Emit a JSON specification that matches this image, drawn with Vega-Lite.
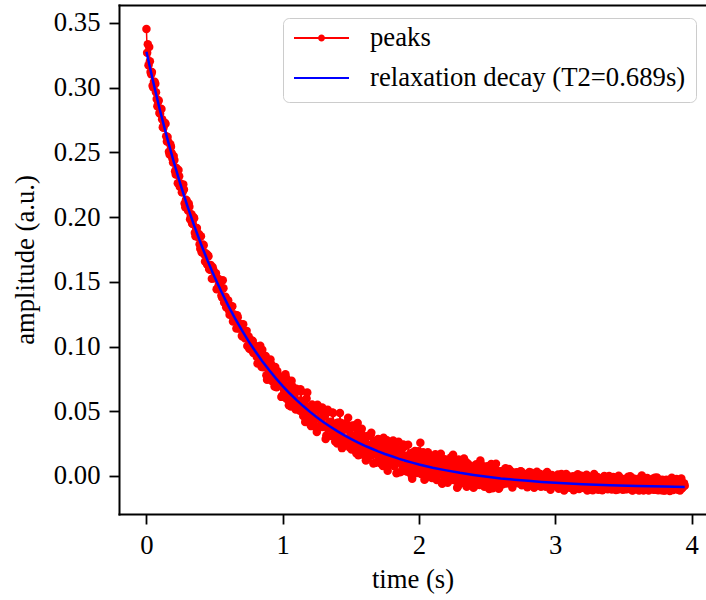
{
"$schema": "https://vega.github.io/schema/vega-lite/v6.json",
"width": 587, "height": 509,
"autosize": {"type": "none"},
"padding": {"left": 119, "top": 5, "right": 0, "bottom": 86},
"background": "white",
"config": {
  "view": {"stroke": null},
  "font": "Liberation Serif",
  "axis": {"labelFont": "Liberation Serif", "titleFont": "Liberation Serif", "labelFontSize": 26.7, "titleFontSize": 26.7, "labelColor": "black", "titleColor": "black", "titleFontWeight": "normal", "domainColor": "black", "tickColor": "black", "domainWidth": 2, "domainCap": "square", "tickWidth": 1.8, "tickSize": 10, "grid": false, "labelPadding": 9}
},
"datasets": {
"peaks": [
{"t":0.00,"a":0.3454},{"t":0.01,"a":0.3336},{"t":0.02,"a":0.3314},{"t":0.03,"a":0.3121},{"t":0.04,"a":0.3122},{"t":0.05,"a":0.3002},{"t":0.06,"a":0.3046},{"t":0.07,"a":0.2964},{"t":0.08,"a":0.2857},{"t":0.09,"a":0.2901},
{"t":0.10,"a":0.2799},{"t":0.11,"a":0.2836},{"t":0.12,"a":0.2695},{"t":0.13,"a":0.2718},{"t":0.14,"a":0.2722},{"t":0.15,"a":0.2585},{"t":0.16,"a":0.2583},{"t":0.17,"a":0.2484},{"t":0.18,"a":0.2544},{"t":0.19,"a":0.2453},
{"t":0.20,"a":0.2473},{"t":0.21,"a":0.2355},{"t":0.22,"a":0.2380},{"t":0.23,"a":0.2262},{"t":0.24,"a":0.2316},{"t":0.25,"a":0.2259},{"t":0.26,"a":0.2193},{"t":0.27,"a":0.2253},{"t":0.28,"a":0.2105},{"t":0.29,"a":0.2135},
{"t":0.30,"a":0.2082},{"t":0.31,"a":0.2106},{"t":0.32,"a":0.1983},{"t":0.33,"a":0.2023},{"t":0.34,"a":0.1947},{"t":0.35,"a":0.1992},{"t":0.36,"a":0.1853},{"t":0.37,"a":0.1915},{"t":0.38,"a":0.1849},{"t":0.39,"a":0.1790},
{"t":0.40,"a":0.1852},{"t":0.41,"a":0.1746},{"t":0.42,"a":0.1782},{"t":0.43,"a":0.1658},{"t":0.44,"a":0.1699},{"t":0.45,"a":0.1708},{"t":0.46,"a":0.1600},{"t":0.47,"a":0.1631},{"t":0.48,"a":0.1523},{"t":0.49,"a":0.1595},
{"t":0.50,"a":0.1527},{"t":0.51,"a":0.1567},{"t":0.52,"a":0.1446},{"t":0.53,"a":0.1474},{"t":0.54,"a":0.1511},{"t":0.55,"a":0.1395},{"t":0.56,"a":0.1512},{"t":0.57,"a":0.1340},{"t":0.58,"a":0.1384},{"t":0.59,"a":0.1322},
{"t":0.60,"a":0.1356},{"t":0.61,"a":0.1246},{"t":0.62,"a":0.1295},{"t":0.63,"a":0.1312},{"t":0.64,"a":0.1205},{"t":0.65,"a":0.1221},{"t":0.66,"a":0.1140},{"t":0.67,"a":0.1226},{"t":0.68,"a":0.1140},{"t":0.69,"a":0.1174},
{"t":0.70,"a":0.1083},{"t":0.71,"a":0.1172},{"t":0.72,"a":0.1084},{"t":0.73,"a":0.1097},{"t":0.74,"a":0.1004},{"t":0.75,"a":0.1078},{"t":0.76,"a":0.1034},{"t":0.77,"a":0.0973},{"t":0.78,"a":0.1043},{"t":0.79,"a":0.0952},
{"t":0.80,"a":0.1000},{"t":0.81,"a":0.0920},{"t":0.82,"a":0.0994},{"t":0.83,"a":0.0870},{"t":0.84,"a":0.0918},{"t":0.85,"a":0.0976},{"t":0.86,"a":0.0839},{"t":0.87,"a":0.0881},{"t":0.88,"a":0.0778},{"t":0.89,"a":0.0877},
{"t":0.90,"a":0.0807},{"t":0.91,"a":0.0899},{"t":0.92,"a":0.0734},{"t":0.93,"a":0.0814},{"t":0.94,"a":0.0691},{"t":0.95,"a":0.0783},{"t":0.96,"a":0.0810},{"t":0.97,"a":0.0701},{"t":0.98,"a":0.0725},{"t":0.99,"a":0.0611},
{"t":1.00,"a":0.0750},{"t":1.01,"a":0.0665},{"t":1.02,"a":0.0785},{"t":1.03,"a":0.0595},{"t":1.04,"a":0.0698},{"t":1.05,"a":0.0636},{"t":1.06,"a":0.0537},{"t":1.07,"a":0.0695},{"t":1.08,"a":0.0635},{"t":1.09,"a":0.0556},
{"t":1.10,"a":0.0673},{"t":1.11,"a":0.0521},{"t":1.12,"a":0.0582},{"t":1.13,"a":0.0670},{"t":1.14,"a":0.0527},{"t":1.15,"a":0.0464},{"t":1.16,"a":0.0583},{"t":1.17,"a":0.0509},{"t":1.18,"a":0.0644},{"t":1.19,"a":0.0456},
{"t":1.20,"a":0.0513},{"t":1.21,"a":0.0385},{"t":1.22,"a":0.0543},{"t":1.23,"a":0.0437},{"t":1.24,"a":0.0505},{"t":1.25,"a":0.0340},{"t":1.26,"a":0.0535},{"t":1.27,"a":0.0442},{"t":1.28,"a":0.0378},{"t":1.29,"a":0.0529},
{"t":1.30,"a":0.0385},{"t":1.31,"a":0.0469},{"t":1.32,"a":0.0313},{"t":1.33,"a":0.0512},{"t":1.34,"a":0.0377},{"t":1.35,"a":0.0418},{"t":1.36,"a":0.0310},{"t":1.37,"a":0.0487},{"t":1.38,"a":0.0315},{"t":1.39,"a":0.0375},
{"t":1.40,"a":0.0250},{"t":1.41,"a":0.0414},{"t":1.42,"a":0.0487},{"t":1.43,"a":0.0309},{"t":1.44,"a":0.0404},{"t":1.45,"a":0.0258},{"t":1.46,"a":0.0401},{"t":1.47,"a":0.0361},{"t":1.48,"a":0.0450},{"t":1.49,"a":0.0221},
{"t":1.50,"a":0.0319},{"t":1.51,"a":0.0389},{"t":1.52,"a":0.0223},{"t":1.53,"a":0.0391},{"t":1.54,"a":0.0176},{"t":1.55,"a":0.0410},{"t":1.56,"a":0.0272},{"t":1.57,"a":0.0209},{"t":1.58,"a":0.0365},{"t":1.59,"a":0.0163},
{"t":1.60,"a":0.0297},{"t":1.61,"a":0.0119},{"t":1.62,"a":0.0309},{"t":1.63,"a":0.0230},{"t":1.64,"a":0.0167},{"t":1.65,"a":0.0333},{"t":1.66,"a":0.0186},{"t":1.67,"a":0.0270},{"t":1.68,"a":0.0101},{"t":1.69,"a":0.0238},
{"t":1.70,"a":0.0286},{"t":1.71,"a":0.0149},{"t":1.72,"a":0.0096},{"t":1.73,"a":0.0232},{"t":1.74,"a":0.0295},{"t":1.75,"a":0.0158},{"t":1.76,"a":0.0197},{"t":1.77,"a":0.0041},{"t":1.78,"a":0.0240},{"t":1.79,"a":0.0095},
{"t":1.80,"a":0.0163},{"t":1.81,"a":0.0274},{"t":1.82,"a":0.0075},{"t":1.83,"a":0.0182},{"t":1.84,"a":0.0122},{"t":1.85,"a":0.0265},{"t":1.86,"a":0.0028},{"t":1.87,"a":0.0186},{"t":1.88,"a":0.0079},{"t":1.89,"a":0.0223},
{"t":1.90,"a":0.0038},{"t":1.91,"a":0.0139},{"t":1.92,"a":0.0242},{"t":1.93,"a":0.0053},{"t":1.94,"a":0.0175},{"t":1.95,"a":-0.0022},{"t":1.96,"a":0.0135},{"t":1.97,"a":0.0192},{"t":1.98,"a":0.0069},{"t":1.99,"a":0.0026},
{"t":2.00,"a":0.0139},{"t":2.01,"a":0.0257},{"t":2.02,"a":0.0049},{"t":2.03,"a":0.0183},{"t":2.04,"a":-0.0030},{"t":2.05,"a":0.0087},{"t":2.06,"a":0.0151},{"t":2.07,"a":0.0010},{"t":2.08,"a":0.0159},{"t":2.09,"a":0.0046},
{"t":2.10,"a":-0.0007},{"t":2.11,"a":0.0104},{"t":2.12,"a":0.0167},{"t":2.13,"a":-0.0031},{"t":2.14,"a":0.0074},{"t":2.15,"a":0.0016},{"t":2.16,"a":0.0171},{"t":2.17,"a":-0.0061},{"t":2.18,"a":0.0098},{"t":2.19,"a":0.0129},
{"t":2.20,"a":0.0035},{"t":2.21,"a":-0.0052},{"t":2.22,"a":0.0107},{"t":2.23,"a":0.0063},{"t":2.24,"a":-0.0010},{"t":2.25,"a":0.0164},{"t":2.26,"a":-0.0033},{"t":2.27,"a":0.0066},{"t":2.28,"a":-0.0092},{"t":2.29,"a":0.0128},
{"t":2.30,"a":0.0029},{"t":2.31,"a":-0.0056},{"t":2.32,"a":0.0077},{"t":2.33,"a":0.0135},{"t":2.34,"a":-0.0012},{"t":2.35,"a":-0.0083},{"t":2.36,"a":0.0095},{"t":2.37,"a":0.0027},{"t":2.38,"a":-0.0043},{"t":2.39,"a":0.0073},
{"t":2.40,"a":-0.0091},{"t":2.41,"a":0.0038},{"t":2.42,"a":0.0090},{"t":2.43,"a":-0.0021},{"t":2.44,"a":-0.0061},{"t":2.45,"a":0.0120},{"t":2.46,"a":-0.0006},{"t":2.47,"a":0.0040},{"t":2.48,"a":-0.0083},{"t":2.49,"a":0.0018},
{"t":2.50,"a":0.0075},{"t":2.51,"a":-0.0052},{"t":2.52,"a":-0.0021},{"t":2.53,"a":0.0092},{"t":2.54,"a":-0.0095},{"t":2.55,"a":0.0024},{"t":2.56,"a":0.0055},{"t":2.57,"a":-0.0053},{"t":2.58,"a":-0.0005},{"t":2.59,"a":-0.0089},
{"t":2.60,"a":0.0021},{"t":2.61,"a":-0.0045},{"t":2.62,"a":0.0042},{"t":2.63,"a":-0.0020},{"t":2.64,"a":-0.0057},{"t":2.65,"a":0.0007},{"t":2.66,"a":0.0053},{"t":2.67,"a":-0.0042},{"t":2.68,"a":-0.0007},{"t":2.69,"a":-0.0068},
{"t":2.70,"a":0.0023},{"t":2.71,"a":-0.0020},{"t":2.72,"a":-0.0053},{"t":2.73,"a":0.0006},{"t":2.74,"a":-0.0040},{"t":2.75,"a":0.0035},{"t":2.76,"a":-0.0065},{"t":2.77,"a":-0.0010},{"t":2.78,"a":0.0008},{"t":2.79,"a":-0.0056},
{"t":2.80,"a":-0.0032},{"t":2.81,"a":0.0031},{"t":2.82,"a":-0.0068},{"t":2.83,"a":-0.0007},{"t":2.84,"a":-0.0026},{"t":2.85,"a":-0.0081},{"t":2.86,"a":0.0012},{"t":2.87,"a":-0.0047},{"t":2.88,"a":-0.0017},{"t":2.89,"a":0.0016},
{"t":2.90,"a":-0.0070},{"t":2.91,"a":-0.0029},{"t":2.92,"a":-0.0001},{"t":2.93,"a":-0.0083},{"t":2.94,"a":0.0031},{"t":2.95,"a":-0.0048},{"t":2.96,"a":-0.0067},{"t":2.97,"a":-0.0012},{"t":2.98,"a":-0.0081},{"t":2.99,"a":-0.0002},
{"t":3.00,"a":-0.0031},{"t":3.01,"a":-0.0074},{"t":3.02,"a":0.0012},{"t":3.03,"a":-0.0064},{"t":3.04,"a":-0.0042},{"t":3.05,"a":-0.0008},{"t":3.06,"a":-0.0093},{"t":3.07,"a":-0.0028},{"t":3.08,"a":0.0015},{"t":3.09,"a":-0.0070},
{"t":3.10,"a":-0.0055},{"t":3.11,"a":-0.0024},{"t":3.12,"a":-0.0086},{"t":3.13,"a":-0.0003},{"t":3.14,"a":-0.0050},{"t":3.15,"a":-0.0094},{"t":3.16,"a":-0.0020},{"t":3.17,"a":-0.0062},{"t":3.18,"a":-0.0082},{"t":3.19,"a":0.0001},
{"t":3.20,"a":-0.0041},{"t":3.21,"a":-0.0093},{"t":3.22,"a":-0.0035},{"t":3.23,"a":0.0010},{"t":3.24,"a":-0.0079},{"t":3.25,"a":-0.0047},{"t":3.26,"a":-0.0015},{"t":3.27,"a":-0.0103},{"t":3.28,"a":-0.0059},{"t":3.29,"a":-0.0027},
{"t":3.30,"a":-0.0089},{"t":3.31,"a":-0.0008},{"t":3.32,"a":-0.0053},{"t":3.33,"a":-0.0099},{"t":3.34,"a":-0.0035},{"t":3.35,"a":-0.0065},{"t":3.36,"a":0.0000},{"t":3.37,"a":-0.0088},{"t":3.38,"a":-0.0045},{"t":3.39,"a":-0.0098},
{"t":3.40,"a":-0.0025},{"t":3.41,"a":-0.0060},{"t":3.42,"a":-0.0096},{"t":3.43,"a":-0.0014},{"t":3.44,"a":-0.0070},{"t":3.45,"a":-0.0041},{"t":3.46,"a":-0.0105},{"t":3.47,"a":-0.0008},{"t":3.48,"a":-0.0064},{"t":3.49,"a":-0.0089},
{"t":3.50,"a":-0.0038},{"t":3.51,"a":-0.0103},{"t":3.52,"a":-0.0054},{"t":3.53,"a":-0.0023},{"t":3.54,"a":-0.0082},{"t":3.55,"a":-0.0003},{"t":3.56,"a":-0.0067},{"t":3.57,"a":-0.0111},{"t":3.58,"a":-0.0036},{"t":3.59,"a":-0.0060},
{"t":3.60,"a":-0.0101},{"t":3.61,"a":-0.0022},{"t":3.62,"a":-0.0050},{"t":3.63,"a":-0.0088},{"t":3.64,"a":-0.0040},{"t":3.65,"a":-0.0110},{"t":3.66,"a":-0.0017},{"t":3.67,"a":-0.0072},{"t":3.68,"a":-0.0055},{"t":3.69,"a":-0.0100},
{"t":3.70,"a":-0.0035},{"t":3.71,"a":-0.0080},{"t":3.72,"a":-0.0106},{"t":3.73,"a":-0.0013},{"t":3.74,"a":-0.0062},{"t":3.75,"a":-0.0094},{"t":3.76,"a":-0.0045},{"t":3.77,"a":-0.0031},{"t":3.78,"a":-0.0111},{"t":3.79,"a":-0.0060},
{"t":3.80,"a":-0.0076},{"t":3.81,"a":-0.0033},{"t":3.82,"a":-0.0099},{"t":3.83,"a":-0.0053},{"t":3.84,"a":-0.0116},{"t":3.85,"a":-0.0025},{"t":3.86,"a":-0.0069},{"t":3.87,"a":-0.0091},{"t":3.88,"a":-0.0050},{"t":3.89,"a":-0.0024},
{"t":3.90,"a":-0.0106},{"t":3.91,"a":-0.0059},{"t":3.92,"a":-0.0042},{"t":3.93,"a":-0.0095},{"t":3.94,"a":-0.0066},{"t":3.95,"a":-0.0076},
{"t":0.005,"a":0.3270},{"t":0.015,"a":0.3173},{"t":0.025,"a":0.3205},{"t":0.035,"a":0.3103},{"t":0.045,"a":0.3016},{"t":0.055,"a":0.3045},{"t":0.065,"a":0.3031},{"t":0.075,"a":0.2912},{"t":0.085,"a":0.2893},{"t":0.095,"a":0.2804},
{"t":0.105,"a":0.2837},{"t":0.115,"a":0.2756},{"t":0.125,"a":0.2690},{"t":0.135,"a":0.2730},{"t":0.145,"a":0.2624},{"t":0.155,"a":0.2619},{"t":0.165,"a":0.2506},{"t":0.175,"a":0.2563},{"t":0.185,"a":0.2495},{"t":0.195,"a":0.2422},
{"t":0.205,"a":0.2441},{"t":0.215,"a":0.2330},{"t":0.225,"a":0.2340},{"t":0.235,"a":0.2364},{"t":0.245,"a":0.2234},{"t":0.255,"a":0.2250},{"t":0.265,"a":0.2192},{"t":0.275,"a":0.2214},{"t":0.285,"a":0.2077},{"t":0.295,"a":0.2129},
{"t":0.305,"a":0.2052},{"t":0.315,"a":0.2081},{"t":0.325,"a":0.2016},{"t":0.335,"a":0.1950},{"t":0.345,"a":0.2000},{"t":0.355,"a":0.1880},{"t":0.365,"a":0.1912},{"t":0.375,"a":0.1848},{"t":0.385,"a":0.1870},{"t":0.395,"a":0.1756},
{"t":0.405,"a":0.1729},{"t":0.415,"a":0.1788},{"t":0.425,"a":0.1711},{"t":0.435,"a":0.1720},{"t":0.445,"a":0.1633},{"t":0.455,"a":0.1698},{"t":0.465,"a":0.1593},{"t":0.475,"a":0.1604},{"t":0.485,"a":0.1614},{"t":0.495,"a":0.1530},
{"t":0.505,"a":0.1551},{"t":0.515,"a":0.1443},{"t":0.525,"a":0.1525},{"t":0.535,"a":0.1448},{"t":0.545,"a":0.1450},{"t":0.555,"a":0.1378},{"t":0.565,"a":0.1451},{"t":0.575,"a":0.1370},{"t":0.585,"a":0.1303},{"t":0.595,"a":0.1357},
{"t":0.605,"a":0.1281},{"t":0.615,"a":0.1297},{"t":0.625,"a":0.1307},{"t":0.635,"a":0.1193},{"t":0.645,"a":0.1248},{"t":0.655,"a":0.1194},{"t":0.665,"a":0.1241},{"t":0.675,"a":0.1142},{"t":0.685,"a":0.1149},{"t":0.695,"a":0.1170},
{"t":0.705,"a":0.1078},{"t":0.715,"a":0.1106},{"t":0.725,"a":0.1063},{"t":0.735,"a":0.1121},{"t":0.745,"a":0.1074},{"t":0.755,"a":0.0982},{"t":0.765,"a":0.1006},{"t":0.775,"a":0.1046},{"t":0.785,"a":0.0950},{"t":0.795,"a":0.0984},
{"t":0.805,"a":0.1002},{"t":0.815,"a":0.0868},{"t":0.825,"a":0.0925},{"t":0.835,"a":0.1007},{"t":0.845,"a":0.0841},{"t":0.855,"a":0.0907},{"t":0.865,"a":0.0852},{"t":0.875,"a":0.0926},{"t":0.885,"a":0.0744},{"t":0.895,"a":0.0865},
{"t":0.905,"a":0.0780},{"t":0.915,"a":0.0864},{"t":0.925,"a":0.0795},{"t":0.935,"a":0.0727},{"t":0.945,"a":0.0842},{"t":0.955,"a":0.0686},{"t":0.965,"a":0.0770},{"t":0.975,"a":0.0701},{"t":0.985,"a":0.0769},{"t":0.995,"a":0.0620},
{"t":1.005,"a":0.0719},{"t":1.015,"a":0.0608},{"t":1.025,"a":0.0758},{"t":1.035,"a":0.0637},{"t":1.045,"a":0.0547},{"t":1.055,"a":0.0686},{"t":1.065,"a":0.0735},{"t":1.075,"a":0.0575},{"t":1.085,"a":0.0614},{"t":1.095,"a":0.0514},
{"t":1.105,"a":0.0653},{"t":1.115,"a":0.0564},{"t":1.125,"a":0.0504},{"t":1.135,"a":0.0655},{"t":1.145,"a":0.0516},{"t":1.155,"a":0.0577},{"t":1.165,"a":0.0417},{"t":1.175,"a":0.0598},{"t":1.185,"a":0.0529},{"t":1.195,"a":0.0449},
{"t":1.205,"a":0.0391},{"t":1.215,"a":0.0553},{"t":1.225,"a":0.0445},{"t":1.235,"a":0.0507},{"t":1.245,"a":0.0379},{"t":1.255,"a":0.0551},{"t":1.265,"a":0.0383},{"t":1.275,"a":0.0445},{"t":1.285,"a":0.0507},{"t":1.295,"a":0.0379},
{"t":1.305,"a":0.0462},{"t":1.315,"a":0.0285},{"t":1.325,"a":0.0488},{"t":1.335,"a":0.0371},{"t":1.345,"a":0.0414},{"t":1.355,"a":0.0308},{"t":1.365,"a":0.0491},{"t":1.375,"a":0.0364},{"t":1.385,"a":0.0267},{"t":1.395,"a":0.0410},
{"t":1.405,"a":0.0293},{"t":1.415,"a":0.0357},{"t":1.425,"a":0.0411},{"t":1.435,"a":0.0215},{"t":1.445,"a":0.0359},{"t":1.455,"a":0.0284},{"t":1.465,"a":0.0408},{"t":1.475,"a":0.0242},{"t":1.485,"a":0.0286},{"t":1.495,"a":0.0360},
{"t":1.505,"a":0.0205},{"t":1.515,"a":0.0290},{"t":1.525,"a":0.0234},{"t":1.535,"a":0.0379},{"t":1.545,"a":0.0314},{"t":1.555,"a":0.0159},{"t":1.565,"a":0.0234},{"t":1.575,"a":0.0338},{"t":1.585,"a":0.0173},{"t":1.595,"a":0.0268},
{"t":1.605,"a":0.0203},{"t":1.615,"a":0.0299},{"t":1.625,"a":0.0134},{"t":1.635,"a":0.0240},{"t":1.645,"a":0.0315},{"t":1.655,"a":0.0161},{"t":1.665,"a":0.0096},{"t":1.675,"a":0.0242},{"t":1.685,"a":0.0187},{"t":1.695,"a":0.0273},
{"t":1.705,"a":0.0118},{"t":1.715,"a":0.0194},{"t":1.725,"a":0.0240},{"t":1.735,"a":0.0077},{"t":1.745,"a":0.0203},{"t":1.755,"a":0.0129},{"t":1.765,"a":0.0275},{"t":1.775,"a":0.0081},{"t":1.785,"a":0.0138},{"t":1.795,"a":0.0204},
{"t":1.805,"a":0.0090},{"t":1.815,"a":0.0237},{"t":1.825,"a":0.0143},{"t":1.835,"a":0.0020},{"t":1.845,"a":0.0206},{"t":1.855,"a":0.0103},{"t":1.865,"a":0.0150},{"t":1.875,"a":0.0036},{"t":1.885,"a":0.0243},{"t":1.895,"a":0.0069},
{"t":1.905,"a":0.0156},{"t":1.915,"a":0.0033},{"t":1.925,"a":0.0100},{"t":1.935,"a":0.0167},{"t":1.945,"a":0.0005},{"t":1.955,"a":0.0182},{"t":1.965,"a":0.0059},{"t":1.975,"a":0.0126},{"t":1.985,"a":0.0023},{"t":1.995,"a":0.0190},
{"t":2.005,"a":0.0118},{"t":2.015,"a":0.0015},{"t":2.025,"a":0.0173},{"t":2.035,"a":0.0060},{"t":2.045,"a":-0.0022},{"t":2.055,"a":0.0125},{"t":2.065,"a":0.0183},{"t":2.075,"a":0.0030},{"t":2.085,"a":0.0078},{"t":2.095,"a":-0.0015},
{"t":2.105,"a":0.0126},{"t":2.115,"a":0.0052},{"t":2.125,"a":0.0005},{"t":2.135,"a":0.0147},{"t":2.145,"a":0.0028},{"t":2.155,"a":0.0089},{"t":2.165,"a":-0.0049},{"t":2.175,"a":0.0120},{"t":2.185,"a":0.0064},{"t":2.195,"a":-0.0001},
{"t":2.205,"a":0.0096},{"t":2.215,"a":-0.0041},{"t":2.225,"a":0.0038},{"t":2.235,"a":0.0144},{"t":2.245,"a":-0.0028},{"t":2.255,"a":0.0060},{"t":2.265,"a":0.0013},{"t":2.275,"a":0.0110},{"t":2.285,"a":-0.0081},{"t":2.295,"a":0.0070},
{"t":2.305,"a":-0.0013},{"t":2.315,"a":0.0094},{"t":2.325,"a":0.0029},{"t":2.335,"a":-0.0035},{"t":2.345,"a":0.0107},{"t":2.355,"a":-0.0057},{"t":2.365,"a":0.0050},{"t":2.375,"a":-0.0015},{"t":2.385,"a":0.0074},{"t":2.395,"a":-0.0081},
{"t":2.405,"a":-0.0082},{"t":2.415,"a":0.0069},{"t":2.425,"a":-0.0023},{"t":2.435,"a":0.0039},{"t":2.445,"a":-0.0070},{"t":2.455,"a":0.0090},{"t":2.465,"a":-0.0055},{"t":2.475,"a":0.0007},{"t":2.485,"a":0.0069},{"t":2.495,"a":-0.0041},
{"t":2.505,"a":0.0039},{"t":2.515,"a":-0.0100},{"t":2.525,"a":0.0072},{"t":2.535,"a":-0.0028},{"t":2.545,"a":0.0016},{"t":2.555,"a":-0.0076},{"t":2.565,"a":0.0094},{"t":2.575,"a":-0.0015},{"t":2.585,"a":-0.0098},{"t":2.595,"a":0.0036},
{"t":2.605,"a":0.0026},{"t":2.615,"a":-0.0065},{"t":2.625,"a":-0.0012},{"t":2.635,"a":0.0059},{"t":2.645,"a":-0.0056},{"t":2.655,"a":0.0003},{"t":2.665,"a":-0.0028},{"t":2.675,"a":0.0037},{"t":2.685,"a":-0.0090},{"t":2.695,"a":0.0011},
{"t":2.705,"a":-0.0044},{"t":2.715,"a":0.0028},{"t":2.725,"a":-0.0015},{"t":2.735,"a":-0.0058},{"t":2.745,"a":0.0037},{"t":2.755,"a":-0.0072},{"t":2.765,"a":-0.0001},{"t":2.775,"a":-0.0044},{"t":2.785,"a":0.0016},{"t":2.795,"a":-0.0087},
{"t":2.805,"a":-0.0010},{"t":2.815,"a":-0.0071},{"t":2.825,"a":0.0024},{"t":2.835,"a":-0.0043},{"t":2.845,"a":-0.0092},{"t":2.855,"a":-0.0002},{"t":2.865,"a":0.0033},{"t":2.875,"a":-0.0058},{"t":2.885,"a":-0.0029},{"t":2.895,"a":-0.0083},
{"t":2.905,"a":0.0006},{"t":2.915,"a":-0.0043},{"t":2.925,"a":-0.0074},{"t":2.935,"a":0.0022},{"t":2.945,"a":-0.0057},{"t":2.955,"a":-0.0016},{"t":2.965,"a":-0.0106},{"t":2.975,"a":0.0007},{"t":2.985,"a":-0.0030},{"t":2.995,"a":-0.0072},
{"t":3.005,"a":-0.0061},{"t":3.015,"a":-0.0002},{"t":3.025,"a":-0.0098},{"t":3.035,"a":-0.0033},{"t":3.045,"a":0.0015},{"t":3.055,"a":-0.0076},{"t":3.065,"a":-0.0113},{"t":3.075,"a":-0.0023},{"t":3.085,"a":-0.0054},{"t":3.095,"a":0.0000},
{"t":3.105,"a":-0.0091},{"t":3.115,"a":-0.0043},{"t":3.125,"a":-0.0014},{"t":3.135,"a":-0.0110},{"t":3.145,"a":-0.0033},{"t":3.155,"a":-0.0075},{"t":3.165,"a":0.0014},{"t":3.175,"a":-0.0100},{"t":3.185,"a":-0.0065},{"t":3.195,"a":-0.0023},
{"t":3.205,"a":-0.0090},{"t":3.215,"a":0.0000},{"t":3.225,"a":-0.0055},{"t":3.235,"a":-0.0112},{"t":3.245,"a":-0.0014},{"t":3.255,"a":-0.0074},{"t":3.265,"a":-0.0044},{"t":3.275,"a":-0.0111},{"t":3.285,"a":0.0015},{"t":3.295,"a":-0.0088},
{"t":3.305,"a":-0.0034},{"t":3.315,"a":-0.0106},{"t":3.325,"a":-0.0065},{"t":3.335,"a":-0.0023},{"t":3.345,"a":-0.0110},{"t":3.355,"a":-0.0012},{"t":3.365,"a":-0.0084},{"t":3.375,"a":-0.0043},{"t":3.385,"a":-0.0103},{"t":3.395,"a":-0.0001},
{"t":3.405,"a":-0.0044},{"t":3.415,"a":-0.0104},{"t":3.425,"a":-0.0008},{"t":3.435,"a":-0.0075},{"t":3.445,"a":-0.0108},{"t":3.455,"a":-0.0033},{"t":3.465,"a":0.0002},{"t":3.475,"a":-0.0088},{"t":3.485,"a":-0.0058},{"t":3.495,"a":-0.0106},
{"t":3.505,"a":-0.0023},{"t":3.515,"a":-0.0071},{"t":3.525,"a":-0.0102},{"t":3.535,"a":-0.0006},{"t":3.545,"a":-0.0084},{"t":3.555,"a":-0.0042},{"t":3.565,"a":-0.0112},{"t":3.575,"a":-0.0019},{"t":3.585,"a":-0.0055},{"t":3.595,"a":-0.0097},
{"t":3.605,"a":-0.0032},{"t":3.615,"a":-0.0112},{"t":3.625,"a":-0.0068},{"t":3.635,"a":0.0003},{"t":3.645,"a":-0.0111},{"t":3.655,"a":-0.0051},{"t":3.665,"a":-0.0081},{"t":3.675,"a":-0.0015},{"t":3.685,"a":-0.0113},{"t":3.695,"a":-0.0040},
{"t":3.705,"a":-0.0094},{"t":3.715,"a":-0.0022},{"t":3.725,"a":-0.0065},{"t":3.735,"a":-0.0107},{"t":3.745,"a":-0.0011},{"t":3.755,"a":-0.0110},{"t":3.765,"a":-0.0047},{"t":3.775,"a":-0.0090},{"t":3.785,"a":-0.0030},{"t":3.795,"a":-0.0112},
{"t":3.805,"a":-0.0113},{"t":3.815,"a":-0.0030},{"t":3.825,"a":-0.0091},{"t":3.835,"a":-0.0049},{"t":3.845,"a":-0.0111},{"t":3.855,"a":-0.0013},{"t":3.865,"a":-0.0109},{"t":3.875,"a":-0.0068},{"t":3.885,"a":-0.0026},{"t":3.895,"a":-0.0098},
{"t":3.905,"a":-0.0044},{"t":3.915,"a":-0.0112},{"t":3.925,"a":-0.0020},{"t":3.935,"a":-0.0087},{"t":3.945,"a":-0.0057}
],
"fit": [
{"t":0,"a":0.3278},{"t":0.05,"a":0.3042},{"t":0.1,"a":0.2822},{"t":0.15,"a":0.2618},{"t":0.2,"a":0.2428},{"t":0.25,"a":0.2251},{"t":0.3,"a":0.2087},{"t":0.35,"a":0.1934},{"t":0.4,"a":0.1792},{"t":0.45,"a":0.1660},
{"t":0.5,"a":0.1537},{"t":0.55,"a":0.1423},{"t":0.6,"a":0.1316},{"t":0.65,"a":0.1218},{"t":0.7,"a":0.1126},{"t":0.75,"a":0.1040},{"t":0.8,"a":0.0961},{"t":0.85,"a":0.0887},{"t":0.9,"a":0.0818},{"t":0.95,"a":0.0754},
{"t":1.0,"a":0.0694},{"t":1.05,"a":0.0639},{"t":1.1,"a":0.0588},{"t":1.15,"a":0.0540},{"t":1.2,"a":0.0495},{"t":1.25,"a":0.0454},{"t":1.3,"a":0.0415},{"t":1.35,"a":0.0380},{"t":1.4,"a":0.0346},{"t":1.45,"a":0.0315},
{"t":1.5,"a":0.0287},{"t":1.55,"a":0.0260},{"t":1.6,"a":0.0235},{"t":1.65,"a":0.0212},{"t":1.7,"a":0.0190},{"t":1.75,"a":0.0170},{"t":1.8,"a":0.0152},{"t":1.85,"a":0.0134},{"t":1.9,"a":0.0118},{"t":1.95,"a":0.0103},
{"t":2.0,"a":0.0089},{"t":2.1,"a":0.0064},{"t":2.2,"a":0.0043},{"t":2.3,"a":0.0024},{"t":2.4,"a":0.0008},{"t":2.5,"a":-0.0006},{"t":2.6,"a":-0.0019},{"t":2.7,"a":-0.0029},{"t":2.8,"a":-0.0038},{"t":2.9,"a":-0.0046},
{"t":3.0,"a":-0.0053},{"t":3.2,"a":-0.0064},{"t":3.4,"a":-0.0072},{"t":3.6,"a":-0.0078},{"t":3.8,"a":-0.0082},{"t":3.95,"a":-0.0085}
]
},
"encoding": {
  "y": {"field": "a", "type": "quantitative", "scale": {"domain": [-0.0294, 0.3639], "nice": false, "zero": false},
        "axis": {"values": [0, 0.05, 0.1, 0.15, 0.2, 0.25, 0.3, 0.35], "format": ".2f", "title": "amplitude (a.u.)", "titlePadding": 14}}
},
"layer": [
  {
    "data": {"name": "peaks"},
    "mark": {"type": "line", "strokeWidth": 1.5, "point": {"filled": true, "size": 72, "opacity": 1}},
    "encoding": {
      "x": {"field": "t", "type": "quantitative", "scale": {"domain": [-0.2015, 4.106], "nice": false, "zero": false},
            "axis": {"values": [0, 1, 2, 3, 4], "format": "d", "title": "time (s)", "titlePadding": 8, "labelPadding": 8}},
      "color": {"datum": "peaks", "type": "nominal",
        "scale": {"domain": ["peaks", "relaxation decay (T2=0.689s)"], "range": ["#ff0000", "#0000ff"]},
        "legend": {
          "title": null, "orient": "none", "legendX": 164, "legendY": 13,
          "strokeColor": "#cccccc", "fillColor": "white", "cornerRadius": 6, "padding": 10,
          "labelFont": "Liberation Serif", "labelFontSize": 26.7, "labelColor": "black", "labelLimit": 600,
          "symbolSize": 3025, "symbolStrokeWidth": 2, "symbolOffset": 0,
          "clipHeight": 20, "rowPadding": 13, "labelOffset": 20,
          "encode": {"symbols": {"update": {
            "shape": {"signal": "datum.value === 'peaks' ? 'M-1,0H1M0.09,0A0.09,0.09,0,1,1,-0.09,0A0.09,0.09,0,1,1,0.09,0Z' : 'M-1,0H1'"},
            "fill": {"signal": "datum.value === 'peaks' ? '#ff0000' : 'transparent'"}
          }}}
        }
      }
    }
  },
  {
    "data": {"name": "fit"},
    "mark": {"type": "line", "strokeWidth": 2.5},
    "encoding": {
      "x": {"field": "t", "type": "quantitative",
            "axis": {"orient": "top", "labels": false, "ticks": false, "title": null, "domain": true}},
      "color": {"datum": "relaxation decay (T2=0.689s)", "type": "nominal"}
    }
  }
],
"resolve": {"axis": {"x": "independent"}}
}
